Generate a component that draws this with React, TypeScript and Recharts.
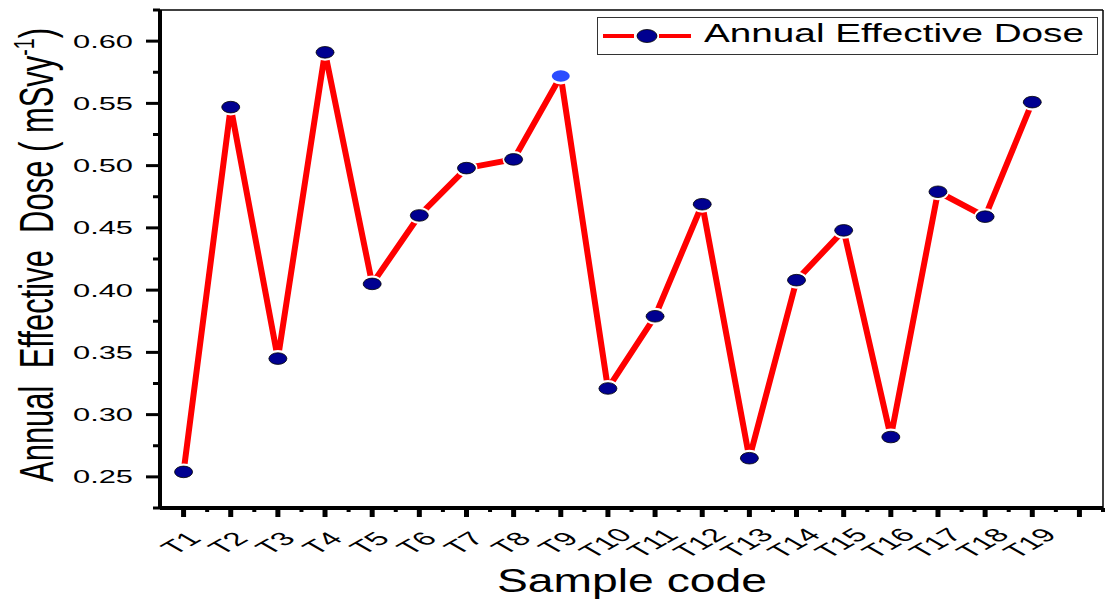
import { LineChart, Line, XAxis, YAxis, Legend, ReferenceLine } from 'recharts';

// ── Datos ─────────────────────────────────────────────────────────────────────

const sampleCodes = [
  'T1', 'T2', 'T3', 'T4', 'T5', 'T6', 'T7', 'T8', 'T9', 'T10',
  'T11', 'T12', 'T13', 'T14', 'T15', 'T16', 'T17', 'T18', 'T19',
];
const doseValues = [
  0.254, 0.547, 0.345, 0.591, 0.405, 0.46, 0.498, 0.505, 0.572, 0.321,
  0.379, 0.469, 0.265, 0.408, 0.448, 0.282, 0.479, 0.459, 0.551,
];
const highlightCode = 'T9';

const yMajorTicks = [0.25, 0.3, 0.35, 0.4, 0.45, 0.5, 0.55, 0.6];
const yMinorTicks = [0.225, 0.275, 0.325, 0.375, 0.425, 0.475, 0.525, 0.575, 0.625];
const yDomain = [0.225, 0.625];

const seriesName = 'Annual Effective Dose';
const xTitle = 'Sample code';

const data = sampleCodes.map((code, i) => ({ pos: i + 1, code, dose: doseValues[i] }));

// posiciones de ticks en X: uno por muestra + uno extra, con menores entre medio
const xMajorTicks = [...sampleCodes.map((_, i) => i + 1), sampleCodes.length + 1];
const xAllTicks = xMajorTicks.flatMap((t) => [t, t + 0.5]);
const xDomain = [0.5, sampleCodes.length + 1.5];

const FONT = '"Liberation Sans", Arial, sans-serif';
const STRETCH = 1.75;

// ── Ticks ─────────────────────────────────────────────────────────────────────

const YTick = ({ x, y, payload }: any) => {
  const major = yMajorTicks.includes(payload.value);
  return (
    <g>
      <line x1={x - (major ? 14 : 7)} x2={x} y1={y} y2={y} stroke="#000" strokeWidth={3} />
      {major && (
        <text
          x={x - 27}
          y={y + 6.5}
          textAnchor="end"
          fontSize={18}
          fontFamily={FONT}
          fill="#000"
          textLength={60}
          lengthAdjust="spacingAndGlyphs"
        >
          {payload.value.toFixed(2)}
        </text>
      )}
    </g>
  );
};

const XTick = ({ x, y, payload }: any) => {
  const v = payload.value;
  const major = Number.isInteger(v);
  const label = major ? sampleCodes[v - 1] ?? '' : '';
  return (
    <g>
      <line
        x1={x}
        x2={x}
        y1={y}
        y2={y + (major ? 9 : 4)}
        stroke="#000"
        strokeWidth={major ? 5 : 4}
      />
      {label && (
        <text
          transform={`translate(${x - 3}, 543) scale(${STRETCH}, 1) rotate(-45)`}
          textAnchor="middle"
          dominantBaseline="central"
          fontSize={19}
          fontFamily={FONT}
          fill="#000"
        >
          {label}
        </text>
      )}
    </g>
  );
};

// ── Marcadores (con hueco blanco alrededor, estilo Origin) ───────────────────

const Marker = ({ cx, cy, payload }: any) => {
  const hi = payload.code === highlightCode;
  return (
    <g key={payload.code}>
      <ellipse cx={cx} cy={cy} rx={11} ry={8.5} fill="#fff" />
      <ellipse
        cx={cx}
        cy={cy}
        rx={9}
        ry={5.8}
        fill={hi ? '#2b4cff' : '#000090'}
        stroke={hi ? 'none' : '#000'}
        strokeWidth={0.8}
      />
    </g>
  );
};

// ── Títulos ───────────────────────────────────────────────────────────────────

const YTitle = () => (
  <text
    transform={`translate(53, 255) scale(${STRETCH}, 1) rotate(-90)`}
    textAnchor="middle"
    fontSize={27}
    fontFamily={FONT}
    fill="#000"
    textLength={454}
    lengthAdjust="spacingAndGlyphs"
  >
    Annual&#160;&#160;Effective&#160;&#160;Dose ( mSvy
    <tspan fontSize={17} dy={-11}>-1</tspan>
    <tspan dy={11}>)</tspan>
  </text>
);

const XTitle = () => (
  <text
    x={632}
    y={592}
    textAnchor="middle"
    fontSize={33}
    fontFamily={FONT}
    fill="#000"
    textLength={270}
    lengthAdjust="spacingAndGlyphs"
  >
    {xTitle}
  </text>
);

const LegendBox = () => (
  <svg width={502} height={39} style={{ display: 'block' }}>
    <rect x={0.5} y={0.5} width={500} height={37} fill="#fff" stroke="#333" strokeWidth={1} />
    <line x1={6} x2={37} y1={19} y2={19} stroke="#ff0000" strokeWidth={4} />
    <line x1={62} x2={94} y1={19} y2={19} stroke="#ff0000" strokeWidth={4} />
    <ellipse cx={50} cy={19} rx={10} ry={6.5} fill="#000090" stroke="#000" strokeWidth={0.8} />
    <text
      x={107}
      y={25}
      fontSize={25}
      fontFamily={FONT}
      fill="#000"
      textLength={380}
      lengthAdjust="spacingAndGlyphs"
    >
      {seriesName}
    </text>
  </svg>
);

// ── Componente principal ──────────────────────────────────────────────────────

export default function App() {
  return (
    <div style={{ position: 'absolute', left: 0, top: 0, background: '#fff' }}>
      <LineChart
        width={1105}
        height={599}
        data={data}
        margin={{ top: 10, right: 2, left: 0, bottom: 0 }}
      >
        <XAxis
          dataKey="pos"
          type="number"
          domain={xDomain}
          ticks={xAllTicks}
          interval={0}
          tick={<XTick />}
          tickLine={false}
          tickSize={0}
          tickMargin={0}
          axisLine={{ stroke: '#000', strokeWidth: 4 }}
          height={91}
          label={<XTitle />}
        />
        <YAxis
          type="number"
          domain={yDomain}
          ticks={[...yMinorTicks, ...yMajorTicks].sort((a, b) => a - b)}
          interval={0}
          tick={<YTick />}
          tickLine={false}
          tickSize={0}
          tickMargin={0}
          axisLine={{ stroke: '#000', strokeWidth: 4 }}
          width={160}
          label={<YTitle />}
        />

        {/* marco superior y derecho */}
        <ReferenceLine y={yDomain[1]} stroke="#000" strokeWidth={1.5} />
        <ReferenceLine x={xDomain[1]} stroke="#000" strokeWidth={1.5} />

        <Legend
          layout="horizontal"
          verticalAlign="middle"
          align="center"
          content={() => <LegendBox />}
          wrapperStyle={{ left: 597, top: 17, width: 502 }}
        />

        <Line
          type="linear"
          dataKey="dose"
          name={seriesName}
          stroke="#ff0000"
          strokeWidth={6}
          strokeLinejoin="round"
          dot={<Marker />}
          activeDot={false}
          isAnimationActive={false}
        />
      </LineChart>
    </div>
  );
}
